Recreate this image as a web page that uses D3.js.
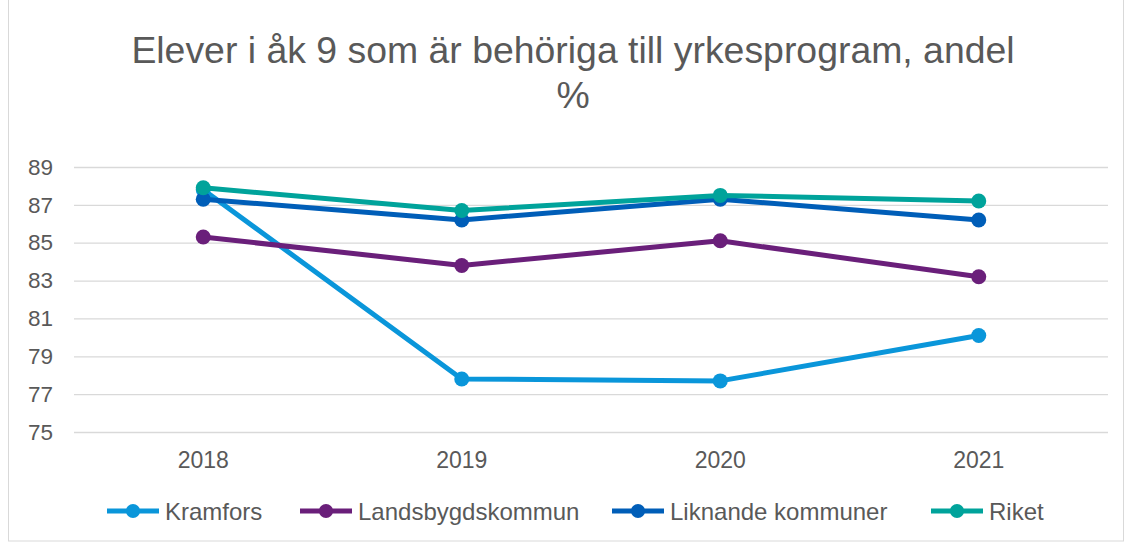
<!DOCTYPE html>
<html><head><meta charset="utf-8">
<script src="https://cdn.jsdelivr.net/npm/d3@7"></script>
<style>body{margin:0;background:#fff}svg{display:block}</style>
</head><body>
<svg id="c" width="1132" height="542"></svg>
<script>
const years = ["2018","2019","2020","2021"];
const seriesNames = ["Kramfors","Landsbygdskommun","Liknande kommuner","Riket"];
const kramfors = [87.8, 77.8, 77.7, 80.1];
const landsbygd = [85.3, 83.8, 85.1, 83.2];
const liknande = [87.3, 86.2, 87.3, 86.2];
const riket = [87.9, 86.7, 87.5, 87.2];
const yTicks = [75,77,79,81,83,85,87,89];
const colors = ["#0A96DA","#6A1F7A","#005EB8","#00A39B"];
const titleLines = ["Elever i åk 9 som är behöriga till yrkesprogram, andel","%"];

const data = [kramfors, landsbygd, liknande, riket];
const svg = d3.select("#c");
const font = "Liberation Sans, Arial, sans-serif";
const txt = "#595959";

svg.append("rect").attr("x",8.5).attr("y",-1).attr("width",1115).attr("height",542)
  .attr("fill","#fff").attr("stroke","#d9d9d9");

svg.append("text").attr("x",573).attr("y",63).attr("text-anchor","middle")
  .attr("font-family",font).attr("font-size",37.4).attr("fill",txt)
  .selectAll("tspan").data(titleLines).join("tspan")
  .attr("x",573).attr("dy",(d,i)=>i?45:0).text(d=>d);

const x = d3.scaleBand().domain(years).range([74,1108]);
const y = d3.scaleLinear().domain([75,89]).range([432,167]);

const g = svg.append("g");
g.append("g").attr("transform","translate(74,0)")
  .call(d3.axisLeft(y).tickValues(yTicks).tickSize(-1034).tickPadding(14))
  .call(a=>a.select(".domain").remove())
  .call(a=>a.selectAll("line").attr("stroke","#d9d9d9").attr("stroke-width",1.3))
  .call(a=>a.selectAll("text").attr("font-family",font).attr("font-size",22.5).attr("fill",txt).attr("x",-21));

g.append("g").attr("transform","translate(0,432)")
  .call(d3.axisBottom(x).tickSize(0).tickPadding(20))
  .call(a=>a.select(".domain").remove())
  .call(a=>a.selectAll("text").attr("font-family",font).attr("font-size",23).attr("fill",txt));

const cx = d => x(d) + x.bandwidth()/2;
const line = d3.line().x((d,i)=>cx(years[i])).y(d=>y(d));
data.forEach((vals,k)=>{
  g.append("path").datum(vals).attr("d",line).attr("fill","none")
    .attr("stroke",colors[k]).attr("stroke-width",5).attr("stroke-linejoin","round");
  g.selectAll(null).data(vals).join("circle")
    .attr("cx",(d,i)=>cx(years[i])).attr("cy",d=>y(d)).attr("r",7.5).attr("fill",colors[k]);
});

const legX = [107, 300, 612, 931];
const leg = svg.append("g");
seriesNames.forEach((n,k)=>{
  const gx = legX[k];
  leg.append("line").attr("x1",gx).attr("x2",gx+52).attr("y1",511).attr("y2",511)
    .attr("stroke",colors[k]).attr("stroke-width",5);
  leg.append("circle").attr("cx",gx+26).attr("cy",511).attr("r",7).attr("fill",colors[k]);
  leg.append("text").attr("x",gx+58).attr("y",520).attr("font-family",font)
    .attr("font-size",24).attr("fill",txt).text(n);
});
</script>
</body></html>
